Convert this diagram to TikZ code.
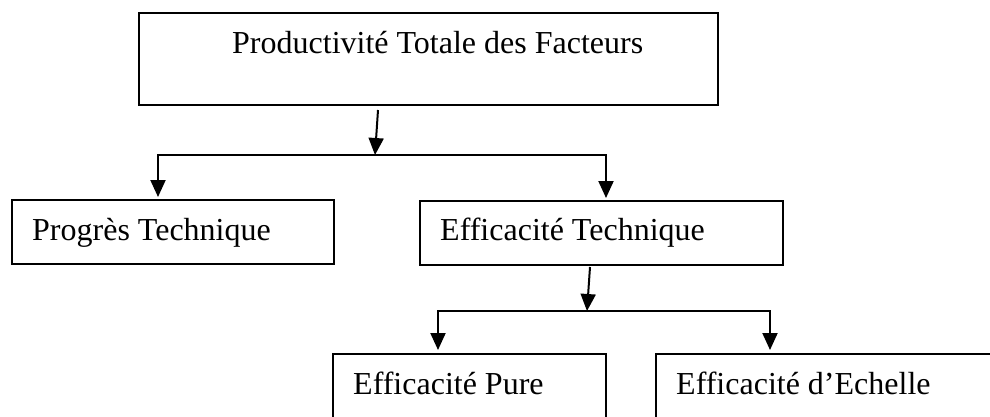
\documentclass[tikz,border=0pt]{standalone}
\usepackage{fontspec}
\setmainfont{Liberation Serif}
\usetikzlibrary{arrows.meta}
\begin{document}
\begin{tikzpicture}[x=1pt,y=-1pt,
  box/.style={draw, line width=2pt, inner sep=0pt, anchor=north west},
  lbl/.style={anchor=base west, inner sep=0pt, font=\fontsize{32}{38}\selectfont},
  conn/.style={line width=2pt},
  arr/.style={conn, -{Triangle[length=17pt,width=15pt]}}]
  \useasboundingbox (0,0) rectangle (990,416);
  \clip (0,0) rectangle (990,416);

  % boxes
  \node[box, minimum width=579pt, minimum height=92pt] (tpf) at (138,12) {};
  \node[box, minimum width=322pt, minimum height=64pt] (pt)  at (11,199) {};
  \node[box, minimum width=363pt, minimum height=64pt] (et)  at (419,200) {};
  \node[box, minimum width=273pt, minimum height=90pt] (pure) at (332,353) {};
  \node[box, minimum width=360pt, minimum height=90pt] (ech)  at (655,353) {};

  % labels
  \node[lbl] (tpfl)  at ([shift={(94,41)}]tpf.north west) {Productivité Totale des Facteurs};
  \node[lbl] (ptl)   at ([shift={(21,41)}]pt.north west)  {Progrès Technique};
  \node[lbl] (etl)   at ([shift={(21,40)}]et.north west)  {Efficacité Technique};
  \node[lbl] (purel) at ([shift={(21,41)}]pure.north west) {Efficacité Pure};
  \node[lbl] (echl)  at ([shift={(21,41)}]ech.north west)  {Efficacité d’Echelle};

  % first level branching
  \coordinate (j1) at (375,155);
  \draw[arr] ([shift={(-50.5,4)}]tpf.south) -- (j1);
  \draw[arr] (j1) -| ([shift={(-15,-2)}]pt.north);
  \draw[arr] (j1) -| ([shift={(4.5,-2)}]et.north);

  % second level branching
  \coordinate (j2) at (587,311);
  \draw[arr] ([shift={(-11.5,1)}]et.south) -- (j2);
  \draw[arr] (j2) -| ([shift={(-31.5,-3)}]pure.north);
  \draw[arr] (j2) -| ([shift={(115,-3)}]ech.north west);
\end{tikzpicture}
\end{document}
